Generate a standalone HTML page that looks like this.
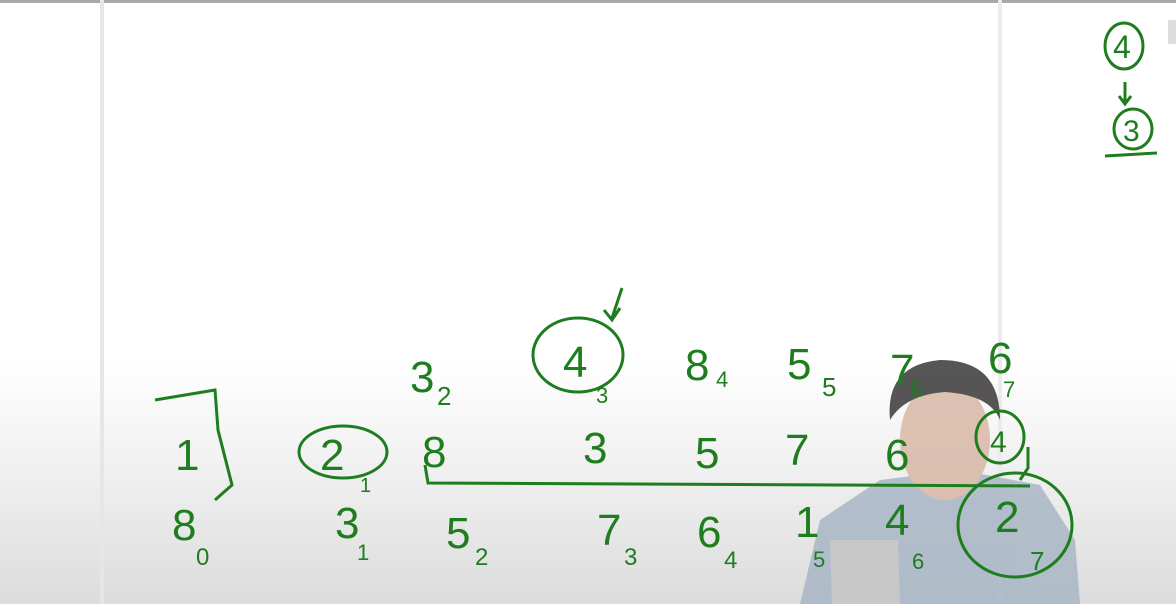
<!DOCTYPE html>
<html><head><meta charset="utf-8"><style>
html,body{margin:0;padding:0}
body{width:1176px;height:604px;overflow:hidden;background:#fff;font-family:"Liberation Sans",sans-serif}
svg{display:block}
text{font-family:"Liberation Sans",sans-serif;fill:#1e7d1e}
</style></head><body>
<svg width="1176" height="604" viewBox="0 0 1176 604">
<defs>
<linearGradient id="g" x1="0" y1="0" x2="0" y2="1">
<stop offset="0" stop-color="#fff"/><stop offset="0.6" stop-color="#fff"/><stop offset="0.8" stop-color="#eeeeee"/><stop offset="1" stop-color="#dcdcdc"/>
</linearGradient>
</defs>
<rect width="1176" height="604" fill="url(#g)"/>
<rect x="0" y="0" width="1176" height="3" fill="#a8a8a8"/>
<rect x="100" y="0" width="4" height="604" fill="#e6e6e6"/>
<rect x="998" y="0" width="4" height="604" fill="#ebebeb"/>
<rect x="1168" y="20" width="8" height="24" fill="#ddd"/>

<g opacity="0.85">
<path d="M800 604 L820 520 L880 480 L960 470 L1040 485 L1075 540 L1080 604 Z" fill="#a9b6c6"/>
<path d="M830 540 L832 604 L900 604 L898 540 Z" fill="#c4c4c4"/>
<ellipse cx="945" cy="440" rx="45" ry="60" fill="#d8b8a6"/>
<path d="M890 420 Q885 365 940 360 Q1000 360 1000 420 Q990 395 945 392 Q905 395 890 420 Z" fill="#3a3838"/>
</g>

<g>
<ellipse cx="1124" cy="46" rx="19" ry="23" fill="none" stroke="#1e7d1e" stroke-width="3"/>
<text x="1113" y="58" font-size="32">4</text>
<line x1="1125" y1="82" x2="1125" y2="102" stroke="#1e7d1e" stroke-width="3"/>
<path d="M1119 96 L1125 104 L1131 96" fill="none" stroke="#1e7d1e" stroke-width="3"/>
<ellipse cx="1133" cy="129" rx="19" ry="20" fill="none" stroke="#1e7d1e" stroke-width="3"/>
<text x="1123" y="141" font-size="30">3</text>
<line x1="1105" y1="156" x2="1157" y2="153" stroke="#1e7d1e" stroke-width="3"/>
</g>

<g font-size="44">
<text x="410" y="392">3</text><text x="437" y="405" font-size="26">2</text>
<ellipse cx="578" cy="355" rx="45" ry="37" fill="none" stroke="#1e7d1e" stroke-width="3"/>
<text x="563" y="377">4</text><text x="596" y="403" font-size="22">3</text>
<path d="M622 288 L612 318 M604 310 L612 320 L620 308" fill="none" stroke="#1e7d1e" stroke-width="3"/>
<text x="685" y="380">8</text><text x="716" y="387" font-size="22">4</text>
<text x="787" y="379">5</text><text x="822" y="396" font-size="26">5</text>
<text x="890" y="385">7</text><text x="910" y="397" font-size="22">6</text>
<text x="988" y="373">6</text><text x="1003" y="397" font-size="22">7</text>
</g>

<g font-size="44">
<path d="M155 400 L215 390 L218 430 L232 485 L215 500" fill="none" stroke="#1e7d1e" stroke-width="3"/>
<text x="175" y="470">1</text>
<ellipse cx="343" cy="452" rx="44" ry="26" fill="none" stroke="#1e7d1e" stroke-width="3"/>
<text x="320" y="470">2</text><text x="360" y="492" font-size="20">1</text>
<text x="422" y="467">8</text>
<text x="583" y="463">3</text>
<text x="695" y="468">5</text>
<text x="785" y="465">7</text>
<text x="885" y="470">6</text>
<ellipse cx="1000" cy="437" rx="24" ry="26" fill="none" stroke="#1e7d1e" stroke-width="3"/>
<text x="990" y="452" font-size="30">4</text>
<path d="M1028 447 L1028 468 L1020 480" fill="none" stroke="#1e7d1e" stroke-width="3"/>
<path d="M425 465 L428 483 L1030 486" fill="none" stroke="#1e7d1e" stroke-width="3"/>
</g>

<g font-size="44">
<text x="172" y="540">8</text><text x="196" y="565" font-size="24">0</text>
<text x="335" y="538">3</text><text x="357" y="560" font-size="22">1</text>
<text x="446" y="548">5</text><text x="475" y="565" font-size="24">2</text>
<text x="597" y="545">7</text><text x="624" y="565" font-size="24">3</text>
<text x="697" y="547">6</text><text x="724" y="568" font-size="24">4</text>
<text x="795" y="537">1</text><text x="813" y="567" font-size="22">5</text>
<text x="885" y="535">4</text><text x="912" y="569" font-size="22">6</text>
<ellipse cx="1015" cy="525" rx="57" ry="52" fill="none" stroke="#1e7d1e" stroke-width="3"/>
<text x="995" y="532">2</text><text x="1030" y="570" font-size="26">7</text>
</g>
</svg>
</body></html>
